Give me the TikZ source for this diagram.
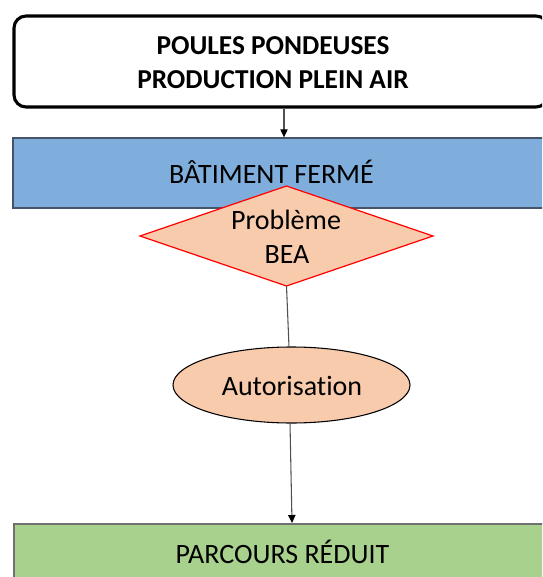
\documentclass[tikz,border=0pt]{standalone}
\usepackage{fontspec}
\setmainfont{Carlito}[RawFeature={-liga}]
\usetikzlibrary{shapes.geometric,arrows.meta}
\definecolor{blueF}{HTML}{7FAEDD}
\definecolor{blueD}{HTML}{44546A}
\definecolor{greenF}{HTML}{A9D18E}
\definecolor{greenD}{HTML}{707070}
\definecolor{peach}{HTML}{F8CBAD}
\definecolor{lineC}{HTML}{505050}
\tikzset{
  lbl/.style={anchor=base, inner sep=0pt, font=\fontsize{21}{25}\selectfont},
  conn/.style={draw=lineC, line width=0.8pt},
  arr/.style={conn, -{Triangle[width=5.5pt,length=6pt,fill=black,color=black]}},
}
\begin{document}
\begin{tikzpicture}[x=0.75pt,y=-0.75pt]
\useasboundingbox (0,0) rectangle (542,577);
\clip (0,0) rectangle (542,577);
% top rounded box
\node[draw=black, line width=2.3pt, rounded corners=9pt, fill=white,
      minimum width=400.5pt, minimum height=68.25pt, inner sep=0pt]
      (top) at (281,61.5) {};
\node[lbl, font=\bfseries\fontsize{20.5}{25}\selectfont] (t1) at (273,55) {POULES PONDEUSES};
\node[lbl, font=\bfseries\fontsize{20.5}{25}\selectfont] (t2) at (273,88.5) {PRODUCTION PLEIN AIR};
% blue box
\node[draw=blueD, line width=1pt, fill=blueF, minimum width=401.25pt,
      minimum height=52.5pt, inner sep=0pt] (bat) at (280.5,173) {};
\node[lbl] (battext) at (271.5,183.5) {BÂTIMENT FERMÉ};
% diamond
\node[diamond, draw=red, line width=0.9pt, fill=peach, minimum width=219.75pt,
      minimum height=75pt, inner sep=0pt, outer sep=0pt] (dia) at (286.5,236) {};
\node[lbl] (d1) at (286,229.5) {Problème};
\node[lbl] (d2) at (287,263.5) {BEA};
% ellipse
\node[ellipse, draw=black, line width=0.8pt, fill=peach, minimum width=177.75pt,
      minimum height=57pt, inner sep=0pt, outer sep=0pt] (aut) at (291.5,385) {};
\node[lbl] (auttext) at (292,395) {Autorisation};
% green box
\node[draw=greenD, line width=1.5pt, fill=greenF, minimum width=401.25pt,
      minimum height=60pt, inner sep=0pt, anchor=north west] (parc) at (13,523) {};
\node[lbl] (parctext) at (282.5,563) {PARCOURS RÉDUIT};
% connectors
\coordinate (c1) at (284,0);
\coordinate (c2) at (289,0);
\coordinate (c3) at (292,0);
\coordinate (c3b) at (290,0);
\draw[arr] (top.south -| c1) -- (bat.north -| c1);
\draw[conn] (dia.south) -- (aut.north -| c2);
\draw[arr] (aut.south -| c3b) -- (parc.north -| c3);
\end{tikzpicture}
\end{document}
